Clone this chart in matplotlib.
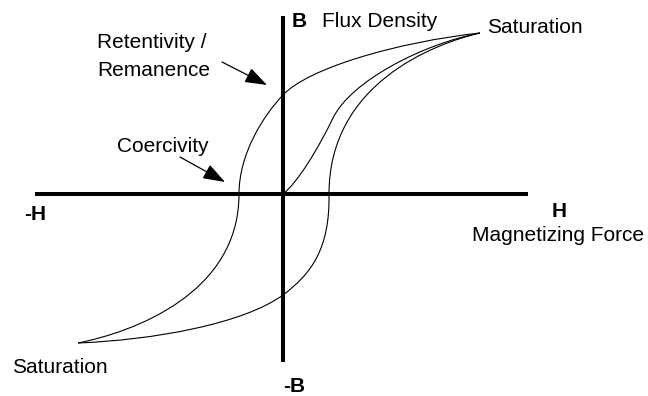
"""B-H hysteresis loop sketch (flux density vs. magnetizing force)."""
import matplotlib
matplotlib.use("Agg")
import matplotlib.pyplot as plt
from matplotlib.path import Path
from matplotlib.patches import PathPatch

plt.rcParams["font.family"] = ["Liberation Sans", "DejaVu Sans"]

# Bezier control points (H, B), one start point then triples per cubic segment
DESC_H = [197, 115, 25, 0, -20, -44, -44, -44, -150, -205]
DESC_B = [161, 152, 126, 99, 78, 40, 0, -100, -138, -149]
ASC_H = [-205, -130, -40, 0, 28, 47, 46, 46, 150, 197]
ASC_B = [-149, -146, -130, -101, -80, -55, 0, 110, 150, 161]
INIT_H = [0, 15, 35, 50, 68, 140, 197]
INIT_B = [0, 12, 45, 76, 113, 150, 161]

# axis extents
H_AXIS = [-248, 245]
B_AXIS = [-168, 178]

# labels: (text, H, B, bold)
LABELS = [
    ("B", 9, 167, True),
    ("Flux Density", 39, 167, False),
    ("Saturation", 204, 161, False),
    ("Retentivity /", -186, 146, False),
    ("Remanence", -186, 118, False),
    ("Coercivity", -166, 42, False),
    ("-H", -259, -26, True),
    ("H", 269, -23, True),
    ("Magnetizing Force", 189, -47, False),
    ("Saturation", -271, -179, False),
    ("-B", 0, -198, True),
]

# annotation arrows: (tail, tip)
ARROWS = [
    ((-61, 132), (-16, 109)),
    ((-103, 37), (-58, 12)),
]


def bezier(hs, bs):
    verts = list(zip(hs, bs))
    codes = [Path.MOVETO] + [Path.CURVE4] * (len(verts) - 1)
    return Path(verts, codes)


fig = plt.figure(figsize=(6.48, 3.96), dpi=100)
ax = fig.add_axes([0, 0, 1, 1])
ax.set_xlim(-283, 365)
ax.set_ylim(-202, 194)
ax.axis("off")

ax.plot(H_AXIS, [0, 0], color="black", lw=2.9, solid_capstyle="butt")
ax.plot([0, 0], B_AXIS, color="black", lw=2.9, solid_capstyle="butt")

for hs, bs in [(DESC_H, DESC_B), (ASC_H, ASC_B), (INIT_H, INIT_B)]:
    ax.add_patch(PathPatch(bezier(hs, bs), fill=False, color="black", lw=0.8))

for text, h, b, bold in LABELS:
    ax.text(h, b, text, fontsize=15, ha="left", va="baseline",
            fontweight="bold" if bold else "normal")

for tail, tip in ARROWS:
    ax.annotate("", xy=tip, xytext=tail,
                arrowprops=dict(arrowstyle="-|>,head_length=0.85,head_width=0.3",
                                mutation_scale=16, color="black", lw=0.9,
                                shrinkA=0, shrinkB=0))

fig.savefig("out.png", dpi=100)
